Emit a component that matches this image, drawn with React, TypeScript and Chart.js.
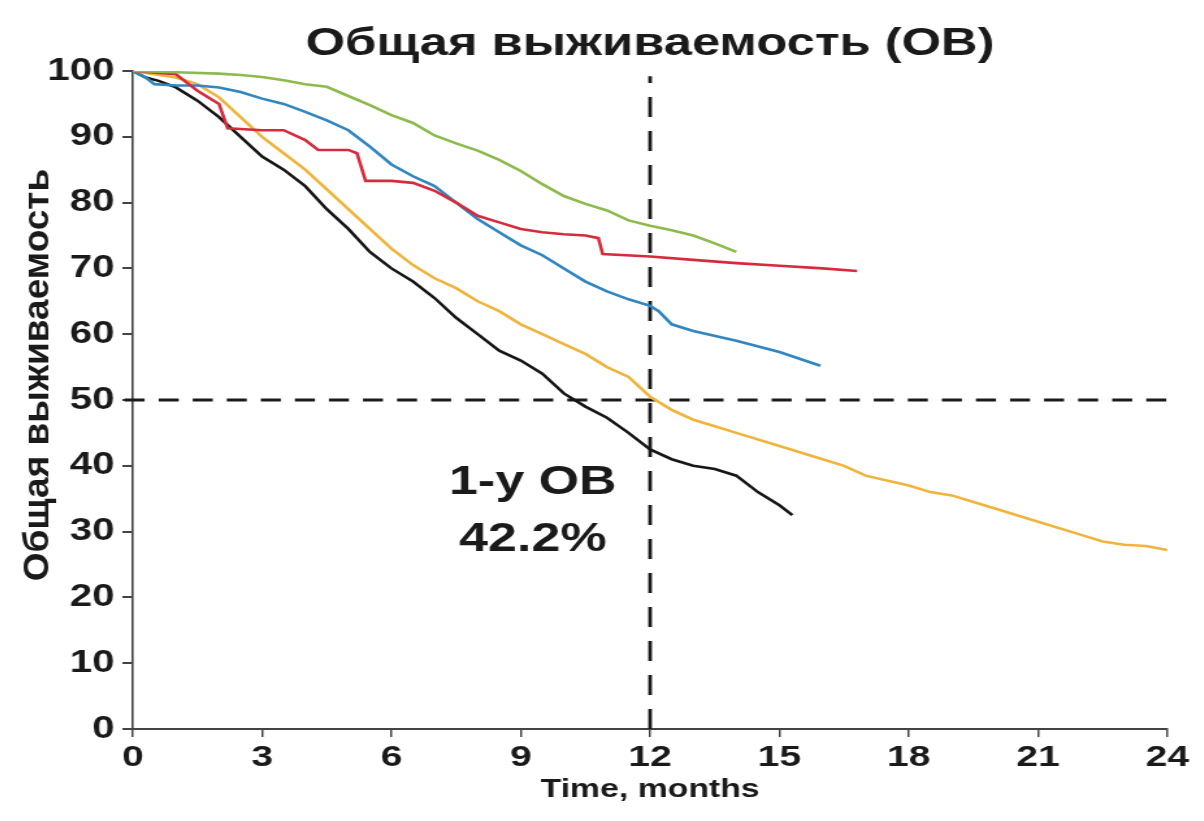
import React, { useEffect, useRef } from "react";
import { Chart, registerables } from "chart.js";

Chart.register(...registerables);

// The reference picture is stretched horizontally; the chart is drawn on a
// narrower canvas and shown at full width.
const PAGE_W = 1188;
const PAGE_H = 805;
const CANVAS_W = 914;
const STRETCH = PAGE_W / CANVAS_W;

const titleText = "Общая выживаемость (ОВ)";
const yTitle = "Общая выживаемость";
const xTitle = "Time, months";
const annotationLines = ["1-у ОВ", "42.2%"];
const annotationX = 9.28;
const annotationY = [37.4, 28.7];

const refX = 12;
const refY = 50;

const blackT = [0, 0.3, 0.6, 1, 1.5, 2, 2.5, 3, 3.5, 4, 4.5, 5, 5.5, 6, 6.5, 7, 7.5, 8, 8.5, 9, 9.5, 10, 10.5, 11, 11.5, 12, 12.5, 13, 13.5, 14, 14.5, 15, 15.3];
const blackS = [100, 99, 98.5, 97.5, 95.5, 93, 90, 87, 85, 82.5, 79, 76, 72.5, 70, 68, 65.5, 62.5, 60, 57.5, 56, 54, 51, 49, 47.3, 45, 42.5, 41, 40, 39.5, 38.5, 36, 34, 32.5];

const orangeT = [0, 0.5, 1, 1.5, 2, 2.5, 3, 3.5, 4, 4.5, 5, 5.5, 6, 6.5, 7, 7.5, 8, 8.5, 9, 9.5, 10, 10.5, 11, 11.5, 12, 12.5, 13, 13.5, 14, 15, 16, 16.5, 17, 18, 18.5, 19, 19.5, 20, 21, 22, 22.5, 23, 23.5, 24];
const orangeS = [100, 99.5, 99, 98, 96, 93, 90, 87.5, 85, 82, 79, 76, 73, 70.5, 68.5, 67, 65, 63.5, 61.5, 60, 58.5, 57, 55, 53.5, 50.5, 48.5, 47, 46, 45, 43, 41, 40, 38.5, 37, 36, 35.5, 34.5, 33.5, 31.5, 29.5, 28.5, 28, 27.8, 27.2];

const blueT = [0, 0.3, 0.5, 1, 1.5, 2, 2.5, 3, 3.5, 4, 4.5, 5, 5.5, 6, 6.5, 7, 7.5, 8, 8.5, 9, 9.5, 10, 10.5, 11, 11.5, 12, 12.2, 12.5, 13, 14, 15, 15.95];
const blueS = [100, 99, 98, 97.8, 97.8, 97.5, 96.8, 95.8, 95, 93.8, 92.5, 91, 88.5, 85.8, 84, 82.5, 80, 77.5, 75.5, 73.5, 72, 70, 68, 66.5, 65.3, 64.3, 63.5, 61.5, 60.5, 59, 57.3, 55.2];

const redT = [0, 1, 1.5, 2, 2.2, 3, 3.5, 4, 4.3, 5, 5.2, 5.4, 6, 6.5, 7, 7.5, 8, 8.5, 9, 9.5, 10, 10.5, 10.8, 10.9, 12, 13, 14, 15, 16, 16.8];
const redS = [100, 99.5, 97, 95, 91.3, 91, 91, 89.5, 88, 88, 87.5, 83.3, 83.3, 83, 81.8, 80, 78, 77, 76, 75.5, 75.2, 75, 74.6, 72.2, 71.8, 71.3, 70.8, 70.4, 70, 69.6];

const greenT = [0, 1, 2, 2.5, 3, 3.5, 4, 4.5, 5, 5.5, 6, 6.5, 7, 7.5, 8, 8.5, 9, 9.5, 10, 10.5, 11, 11.5, 12, 12.5, 13, 13.5, 14];
const greenS = [100, 99.8, 99.6, 99.4, 99.1, 98.6, 98, 97.6, 96.2, 94.8, 93.3, 92.1, 90.2, 89, 87.9, 86.5, 84.8, 82.8, 81, 79.8, 78.8, 77.3, 76.5, 75.8, 75, 73.8, 72.5];

const pts = (t: number[], s: number[]) => t.map((x, i) => ({ x, y: s[i] }));

const FONT = "'Liberation Sans', Arial, Helvetica, sans-serif";

const textPlugin = {
  id: "texts",
  afterDatasetsDraw(chart: any) {
    const { ctx, scales, chartArea } = chart;
    ctx.save();
    ctx.fillStyle = "#1a1a1a";
    ctx.font = `bold 40px ${FONT}`;
    ctx.textAlign = "center";
    ctx.textBaseline = "middle";
    annotationLines.forEach((line, i) => {
      ctx.fillText(line, scales.x.getPixelForValue(annotationX), scales.y.getPixelForValue(annotationY[i]));
    });
    ctx.restore();

    // y axis title, kept unstretched
    ctx.save();
    ctx.fillStyle = "#1a1a1a";
    ctx.font = `bold 37px ${FONT}`;
    ctx.textAlign = "center";
    ctx.textBaseline = "middle";
    ctx.translate(23.6, (chartArea.top + chartArea.bottom) / 2 - 25);
    ctx.scale(1 / STRETCH, 1);
    ctx.rotate(-Math.PI / 2);
    ctx.fillText(yTitle, 0, 0);
    ctx.restore();
  },
};

export default function App() {
  const ref = useRef<HTMLCanvasElement>(null);
  useEffect(() => {
    if (!ref.current) return;
    const line = (t: number[], s: number[], color: string) => ({
      data: pts(t, s),
      borderColor: color,
      borderWidth: 2.6,
      pointRadius: 0,
      tension: 0,
      fill: false,
    });
    const chart = new Chart(ref.current, {
      type: "line",
      data: {
        datasets: [
          line(greenT, greenS, "#8cbb4c"),
          line(redT, redS, "#d62b3d"),
          line(blueT, blueS, "#2f86c0"),
          line(orangeT, orangeS, "#f0b43c"),
          line(blackT, blackS, "#151515"),
          {
            data: [{ x: refX, y: 0 }, { x: refX, y: 99.2 }],
            borderColor: "#1a1a1a",
            borderWidth: 2.8,
            borderDash: [20, 14],
            pointRadius: 0,
            clip: false,
          },
          {
            data: [{ x: -0.19, y: refY }, { x: 24.18, y: refY }],
            borderColor: "#1a1a1a",
            borderWidth: 3,
            borderDash: [15.4, 10.8],
            pointRadius: 0,
            clip: false,
          },
        ] as any,
      },
      options: {
        animation: false,
        responsive: false,
        maintainAspectRatio: false,
        layout: { padding: { left: 0, right: 22, top: 0, bottom: 0 } },
        plugins: {
          legend: { display: false },
          tooltip: { enabled: false },
          title: {
            display: true,
            text: titleText,
            fullSize: false,
            color: "#1a1a1a",
            font: { family: FONT, size: 39, weight: "bold" as any, lineHeight: 1.2 },
            padding: { top: 12.6, bottom: 3.6 },
          },
        },
        scales: {
          x: {
            type: "linear",
            min: 0,
            max: 24,
            afterFit: (s: any) => { s.height = 84; },
            ticks: {
              stepSize: 3,
              color: "#1a1a1a",
              font: { family: FONT, size: 30, weight: "bold" as any },
              padding: 3,
              maxRotation: 0,
            },
            grid: { display: true, drawOnChartArea: false, drawTicks: true, tickLength: 8, color: "#444", lineWidth: 1.5 },
            border: { display: true, color: "#444", width: 2 },
            title: {
              display: true,
              text: xTitle,
              color: "#1a1a1a",
              font: { family: FONT, size: 26, weight: "bold" as any },
              padding: { top: 0, bottom: 8 },
            },
          },
          y: {
            type: "linear",
            min: 0,
            max: 100,
            afterFit: (s: any) => { s.width = 96; },
            ticks: {
              stepSize: 10,
              color: "#1a1a1a",
              font: { family: FONT, size: 31, weight: "bold" as any },
              padding: 6,
            },
            grid: { display: true, drawOnChartArea: false, drawTicks: true, tickLength: 8, color: "#444", lineWidth: 2 },
            border: { display: true, color: "#444", width: 1.6 },
            title: { display: false },
          },
        },
      } as any,
      plugins: [textPlugin],
    });
    return () => chart.destroy();
  }, []);
  return (
    <div style={{ width: PAGE_W, height: PAGE_H, position: "relative" }}>
      <canvas
        ref={ref}
        width={CANVAS_W}
        height={PAGE_H}
        style={{ width: PAGE_W, height: PAGE_H, display: "block" }}
      />
    </div>
  );
}
